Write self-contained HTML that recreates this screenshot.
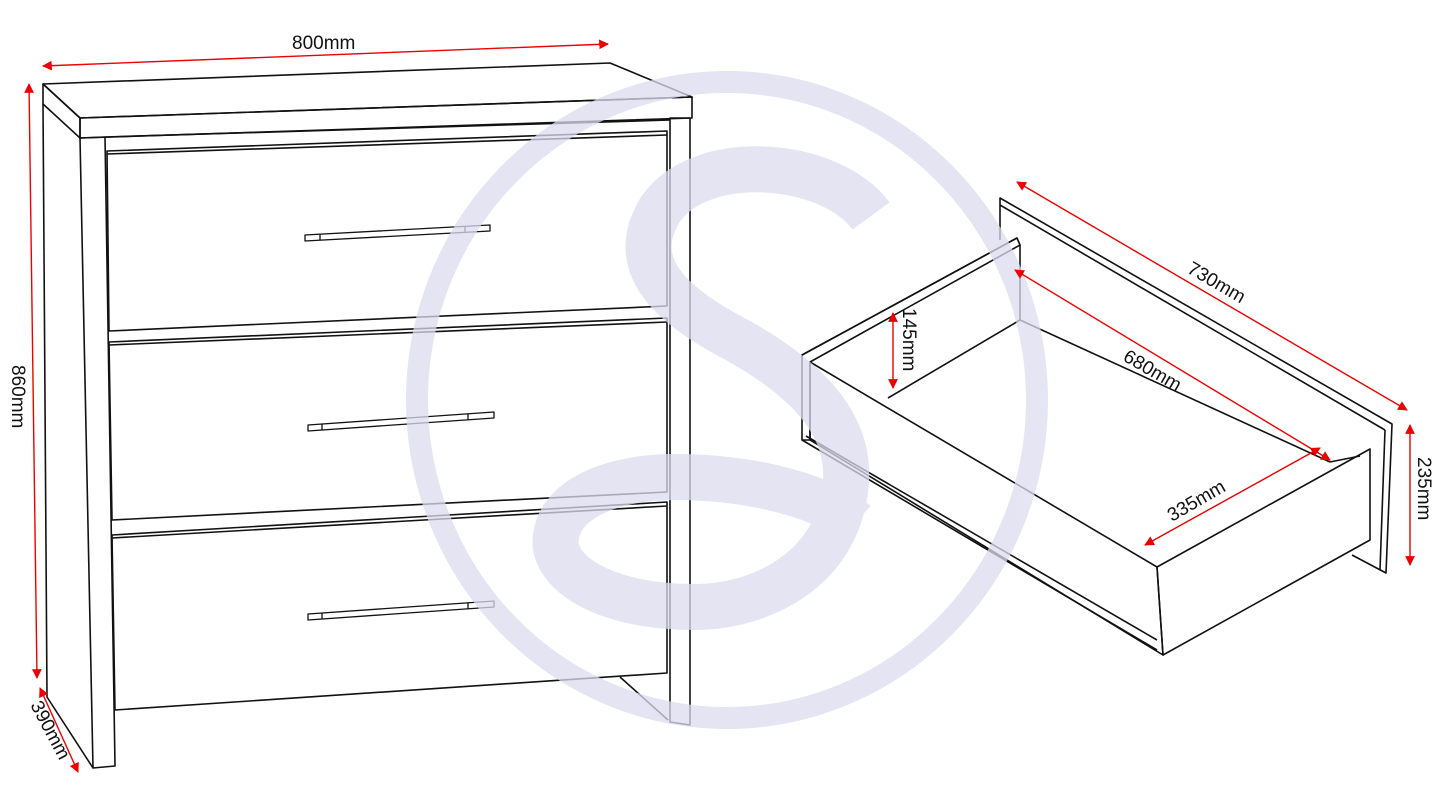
<!DOCTYPE html>
<html><head><meta charset="utf-8"><style>
html,body{margin:0;padding:0;background:#fff;}
svg{display:block;}
text{font-family:"Liberation Sans",sans-serif;font-size:19px;fill:#111;}
</style></head><body>
<svg width="1445" height="799" viewBox="0 0 1445 799" xmlns="http://www.w3.org/2000/svg">
<defs>
<marker id="a" viewBox="0 0 10 10" refX="9" refY="5" markerWidth="7" markerHeight="7" orient="auto-start-reverse"><path d="M0,0L10,5L0,10z" fill="#e00"/></marker>
</defs>
<g fill="none" stroke="#111" stroke-width="1.6" stroke-linejoin="round">
<polygon points="43,84 610,63 692,97 80,118"/>
<polygon points="80,118 692,97 692,118 80,138"/>
<polygon points="43,84 80,118 80,138 43,104"/>
<polyline points="43,104 47,697 93,768"/>
<polygon points="80,138 105,137 115,766 93,768"/>
<polygon points="670,118 690,118 690,725 670,722"/>
<line x1="620" y1="677" x2="668" y2="720"/>
<line x1="105" y1="137" x2="670" y2="120"/>
<polygon points="107,151 667,131 667,306 109,331"/>
<line x1="107" y1="154" x2="667" y2="135"/>
<polygon points="109,342 667,318 667,492 112,520"/>
<line x1="109" y1="345" x2="667" y2="322"/>
<polygon points="112,535 667,502 667,673 115,710"/>
<line x1="112" y1="538" x2="667" y2="506"/>
<g stroke-width="1.3">
<polygon points="305,235 490,225 490,231 305,241"/><line x1="320" y1="234" x2="320" y2="240"/><line x1="465" y1="226" x2="465" y2="232"/>
<polygon points="308,425 494,412 494,418 308,431"/><line x1="322" y1="424" x2="322" y2="430"/><line x1="468" y1="414" x2="468" y2="420"/>
<polygon points="308,614 494,601 494,607 308,620"/><line x1="322" y1="613" x2="322" y2="619"/><line x1="468" y1="603" x2="468" y2="609"/>
</g>
<polyline points="1000,240 1000,198 1392,424 1386,573 1352,555"/>
<line x1="1000" y1="205" x2="1385" y2="430"/>
<line x1="1385" y1="430" x2="1380" y2="570"/>
<polygon points="1017,238 1020,245 810,362 810,440 802,440 802,355"/>
<line x1="802" y1="355" x2="1017" y2="238"/>
<line x1="1020" y1="245" x2="1020" y2="320"/>
<line x1="888" y1="398" x2="1020" y2="320"/>
<line x1="1020" y1="320" x2="1330" y2="462"/>
<polygon points="810,362 1157,567 1163,655 810,440"/>
<line x1="802" y1="440" x2="1157" y2="650"/>
<line x1="806" y1="436" x2="1157" y2="640"/>
<polygon points="1157,567 1370,449 1370,540 1163,655"/>
<line x1="1330" y1="462" x2="1360" y2="456"/>
</g>
<g fill="none" stroke="#dcdcef" opacity="0.75">
<ellipse cx="727" cy="400" rx="310" ry="318" stroke-width="22"/>
<path d="M871,216 C830,160 700,150 660,210 C630,260 660,300 737,340 C800,375 850,420 846,481 C840,570 760,607 695,607 C600,607 550,570 556,536 C562,495 620,477 674,477 C760,477 830,500 855,523" stroke-width="46"/>
</g>
<g stroke="#e00" stroke-width="1.4" marker-start="url(#a)" marker-end="url(#a)">
<line x1="43" y1="66" x2="608" y2="44"/>
<line x1="29" y1="84" x2="37" y2="678"/>
<line x1="40" y1="688" x2="78" y2="772"/>
<line x1="1017" y1="182" x2="1407" y2="410"/>
<line x1="1015" y1="270" x2="1330" y2="460"/>
<line x1="893" y1="313" x2="893" y2="388"/>
<line x1="1410" y1="425" x2="1410" y2="565"/>
<line x1="1145" y1="545" x2="1320" y2="448"/>
</g>
<text x="292" y="49">800mm</text>
<text transform="translate(12,365) rotate(90)">860mm</text>
<text transform="translate(30,705) rotate(62)">390mm</text>
<text transform="translate(1186,272) rotate(30)">730mm</text>
<text transform="translate(1122,360) rotate(30)">680mm</text>
<text transform="translate(903,308) rotate(90)">145mm</text>
<text transform="translate(1418,457) rotate(90)">235mm</text>
<text transform="translate(1172,522) rotate(-30)">335mm</text>
</svg>
</body></html>
